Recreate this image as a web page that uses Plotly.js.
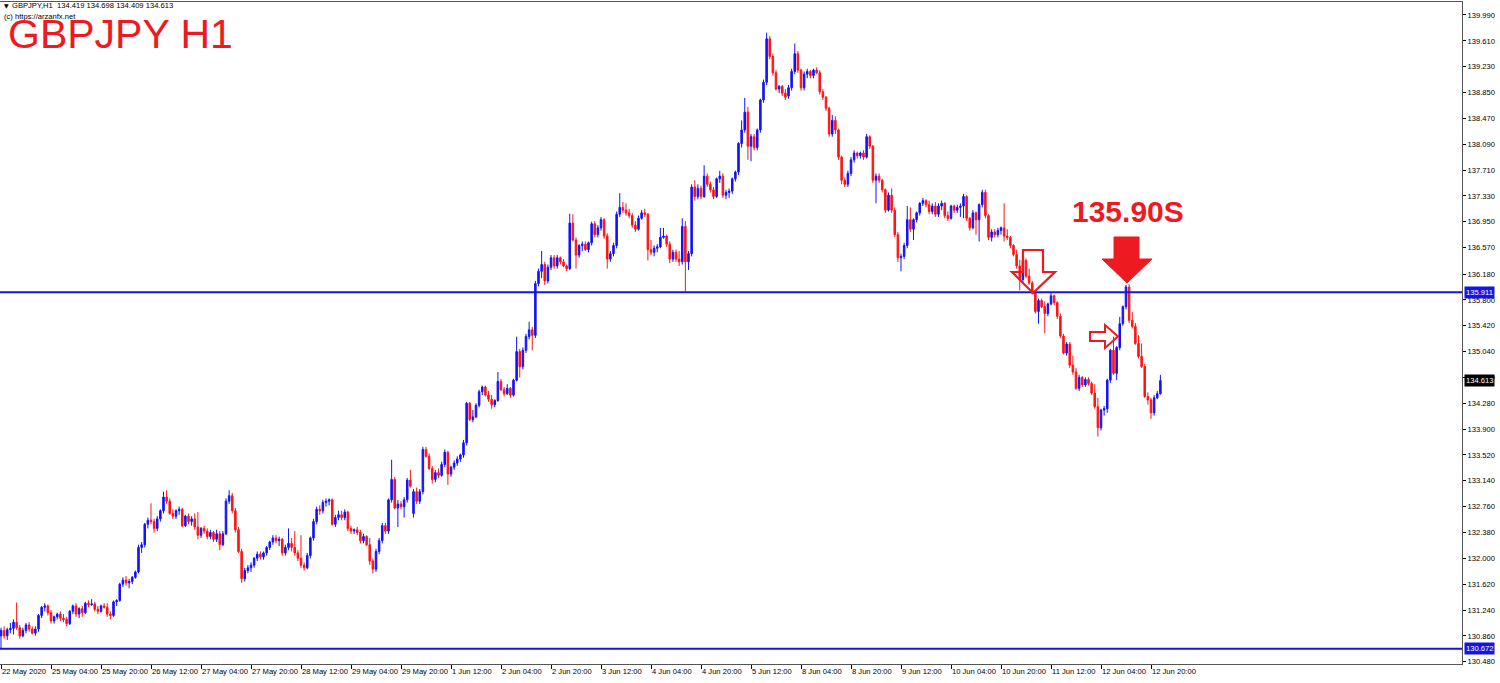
<!DOCTYPE html>
<html>
<head>
<meta charset="utf-8">
<script src="https://cdn.plot.ly/plotly-3.0.1.min.js"></script>
<style>
html,body{margin:0;padding:0;background:#fff;}
#chart{width:1500px;height:683px;}
</style>
</head>
<body>
<div id="chart"></div>
<script>
// ---- trading days (H1 bars, weekends skipped) ----
const tradingDays = ['22 May','25 May','26 May','27 May','28 May','29 May','1 Jun','2 Jun','3 Jun','4 Jun','5 Jun','8 Jun','9 Jun','10 Jun','11 Jun','12 Jun'];
const firstDayStartHour = 12;

// ---- OHLC values (GBPJPY H1) ----
const open = [
130.86,130.94,130.86,130.95,130.97,131.06,130.98,130.86,130.94,131.02,130.96,130.90,
130.96,131.16,131.28,131.30,131.20,131.08,131.14,131.18,131.12,131.10,131.04,131.22,
131.30,131.18,131.26,131.20,131.34,131.32,131.33,131.25,131.22,131.30,131.28,131.18,
131.16,131.36,131.38,131.62,131.68,131.64,131.66,131.72,131.80,132.16,132.20,132.50,
132.56,132.54,132.44,132.58,132.70,132.90,132.84,132.66,132.62,132.70,132.72,132.48,
132.62,132.54,132.58,132.46,132.34,132.44,132.40,132.32,132.38,132.28,132.36,132.20,
132.36,132.84,132.92,132.70,132.42,132.10,131.70,131.82,131.86,131.90,132.00,132.06,
132.02,132.08,132.16,132.24,132.30,132.26,132.28,132.08,132.16,132.22,132.16,132.08,
132.00,131.90,131.86,132.04,132.30,132.54,132.72,132.70,132.82,132.84,132.86,132.50,
132.60,132.64,132.60,132.68,132.44,132.40,132.42,132.38,132.26,132.32,132.20,131.96,
131.84,132.10,132.26,132.48,132.40,132.86,133.16,132.74,132.80,132.76,132.86,133.15,
132.66,132.98,132.84,132.98,133.60,133.50,133.32,133.16,133.26,133.22,133.38,133.56,
133.24,133.34,133.40,133.46,133.52,133.70,134.28,134.04,134.08,134.25,134.45,134.52,
134.40,134.34,134.26,134.32,134.60,134.48,134.42,134.50,134.40,134.62,135.04,134.82,
135.06,135.26,135.36,135.28,136.04,136.22,136.32,136.08,136.28,136.42,136.30,136.42,
136.36,136.30,136.26,136.93,136.68,136.46,136.60,136.62,136.54,136.64,136.92,136.76,
136.86,136.98,136.74,136.40,136.48,136.60,137.06,137.16,137.12,137.08,137.04,136.90,
136.84,137.00,137.08,137.06,136.54,136.50,136.56,136.58,136.72,136.74,136.62,136.40,
136.50,136.40,136.36,136.88,136.36,136.48,137.46,137.32,137.44,137.32,137.62,137.50,
137.42,137.32,137.58,137.62,137.34,137.38,137.40,137.58,137.68,138.10,138.30,138.56,
138.06,138.20,138.04,138.30,138.74,139.00,139.64,139.38,139.14,138.90,138.94,138.84,
138.80,138.92,139.16,139.42,139.18,138.92,139.12,139.16,139.10,139.18,139.14,138.86,
138.78,138.62,138.24,138.44,138.30,137.90,137.56,137.50,137.66,137.86,137.96,137.92,
137.96,137.90,138.20,138.06,137.56,137.62,137.56,137.42,137.12,137.34,137.12,136.76,
136.42,136.44,136.60,136.98,136.84,136.98,137.08,137.22,137.26,137.20,137.10,137.18,
137.06,137.18,137.22,137.04,137.00,137.18,137.12,137.16,137.18,137.32,137.00,136.86,
137.08,136.98,137.20,137.38,137.04,136.72,136.80,136.76,136.82,136.86,136.74,136.72,
136.60,136.47,136.30,136.10,136.38,136.15,136.05,135.90,135.63,135.79,135.70,135.60,
135.74,135.86,135.76,135.56,135.27,135.02,135.15,134.84,134.74,134.50,134.66,134.55,
134.63,134.57,134.43,134.23,133.92,134.18,134.20,134.62,135.06,134.72,135.10,135.45,
135.70,135.99,135.50,135.41,135.16,134.97,134.82,134.38,134.33,134.14,134.36,134.419
];
const high = [
130.98,131.00,130.98,131.05,131.10,131.35,131.02,130.98,131.05,131.06,131.00,131.00,
131.18,131.30,131.34,131.32,131.24,131.16,131.20,131.22,131.18,131.14,131.24,131.32,
131.34,131.28,131.30,131.36,131.38,131.40,131.36,131.30,131.32,131.34,131.34,131.22,
131.38,131.40,131.64,131.72,131.74,131.70,131.74,131.82,132.20,132.24,132.52,132.60,
132.81,132.58,132.62,132.72,132.98,133.00,132.88,132.72,132.72,132.76,132.74,132.64,
132.66,132.62,132.66,132.68,132.46,132.48,132.44,132.42,132.40,132.42,132.40,132.40,
132.88,133.00,132.96,132.74,132.46,132.14,131.86,131.90,131.94,132.02,132.10,132.10,
132.10,132.18,132.26,132.34,132.34,132.32,132.30,132.20,132.44,132.30,132.40,132.12,
132.34,131.94,132.08,132.32,132.58,132.76,132.78,132.86,132.88,132.88,132.88,132.64,
132.70,132.70,132.72,132.70,132.48,132.44,132.46,132.42,132.36,132.34,132.30,132.00,
132.14,132.30,132.52,132.52,132.88,133.45,133.20,132.86,132.84,132.90,133.18,133.30,
133.02,133.04,133.02,133.64,133.64,133.54,133.36,133.30,133.32,133.42,133.60,133.58,
133.36,133.44,133.50,133.54,133.74,134.30,134.30,134.18,134.28,134.48,134.54,134.54,
134.46,134.40,134.34,134.74,134.64,134.52,134.56,134.52,134.64,135.26,135.08,135.10,
135.30,135.48,135.40,136.08,136.26,136.52,136.36,136.32,136.46,136.46,136.46,136.44,
136.40,136.32,137.07,137.06,136.72,136.62,136.66,136.66,136.66,136.95,136.96,136.90,
137.02,137.00,136.78,136.52,136.64,137.10,137.37,137.24,137.22,137.14,137.08,136.96,
137.04,137.12,137.14,137.08,136.68,136.60,136.62,136.86,136.86,136.76,136.66,136.54,
136.54,136.52,137.00,136.96,136.52,137.50,137.56,137.50,137.48,137.78,137.66,137.54,
137.46,137.60,137.70,137.66,137.42,137.44,137.60,137.70,138.12,138.44,138.77,138.64,
138.24,138.24,138.32,138.76,139.04,139.73,139.68,139.42,139.18,138.96,138.96,138.90,
138.96,139.20,139.57,139.46,139.20,139.16,139.20,139.18,139.20,139.22,139.18,138.90,
138.80,138.64,138.52,138.50,138.32,137.92,137.60,137.70,137.90,138.00,137.98,137.98,
138.00,138.24,138.22,138.08,137.66,137.66,137.58,137.44,137.38,137.44,137.16,136.80,
136.48,136.64,137.18,137.16,137.00,137.10,137.24,137.30,137.28,137.26,137.22,137.24,
137.22,137.26,137.24,137.10,137.20,137.20,137.20,137.22,137.36,137.34,137.02,137.12,
137.10,137.22,137.42,137.42,137.06,136.84,136.84,136.86,136.88,137.22,136.84,136.74,
136.62,136.54,136.39,136.40,136.41,136.26,136.08,135.92,135.82,135.82,135.78,135.76,
135.90,135.88,135.78,135.60,135.30,135.18,135.18,134.98,134.80,134.70,134.68,134.66,
134.66,134.60,134.56,134.36,134.20,134.24,134.64,135.08,135.26,135.12,135.55,135.72,
136.02,136.03,135.62,135.46,135.28,135.16,134.86,134.44,134.36,134.40,134.46,134.698
];
const low = [
130.67,130.82,130.80,130.90,130.88,130.95,130.82,130.84,130.90,130.92,130.88,130.86,
130.92,131.12,131.22,131.16,131.04,131.04,131.10,131.08,131.06,131.00,131.02,131.18,
131.14,131.12,131.14,131.18,131.28,131.30,131.22,131.18,131.20,131.26,131.14,131.10,
131.14,131.30,131.36,131.58,131.60,131.56,131.62,131.70,131.78,132.08,132.16,132.44,
132.50,132.38,132.40,132.54,132.66,132.80,132.64,132.58,132.58,132.64,132.46,132.46,
132.50,132.48,132.42,132.28,132.30,132.36,132.28,132.28,132.24,132.24,132.12,132.18,
132.34,132.80,132.66,132.38,132.08,131.64,131.66,131.78,131.80,131.86,131.96,131.98,
131.98,132.04,132.12,132.20,132.22,132.18,132.04,132.04,132.12,132.10,132.04,131.96,
131.86,131.82,131.84,132.00,132.26,132.50,132.64,132.66,132.76,132.78,132.48,132.46,
132.56,132.56,132.56,132.40,132.36,132.36,132.34,132.22,132.22,132.18,131.90,131.78,
131.80,132.06,132.22,132.36,132.36,132.82,132.72,132.46,132.72,132.60,132.82,133.04,
132.60,132.80,132.80,132.94,133.48,133.30,133.10,133.12,133.18,133.20,133.34,133.08,
133.20,133.30,133.36,133.42,133.48,133.66,134.02,134.00,134.06,134.22,134.40,134.38,
134.30,134.20,134.22,134.30,134.46,134.38,134.40,134.36,134.38,134.60,134.66,134.78,
135.02,135.22,135.06,135.24,136.00,136.12,136.02,136.04,136.24,136.26,136.26,136.32,
136.28,136.22,136.24,136.66,136.26,136.42,136.52,136.52,136.50,136.60,136.72,136.72,
136.82,136.70,136.26,136.36,136.44,136.56,137.02,137.08,137.04,137.00,136.86,136.80,
136.82,136.98,137.02,136.38,136.46,136.44,136.50,136.56,136.70,136.58,136.34,136.36,
136.36,136.30,136.32,135.92,136.24,136.44,137.26,137.28,137.28,137.30,137.46,137.38,
137.28,137.30,137.52,137.30,137.28,137.30,137.36,137.54,137.64,138.04,138.26,137.86,
137.84,138.00,138.00,138.26,138.70,138.96,139.34,139.10,138.88,138.84,138.80,138.74,
138.76,138.88,139.12,139.14,138.88,138.88,139.06,139.06,139.06,139.12,138.82,138.74,
138.58,138.20,138.20,138.24,137.86,137.50,137.46,137.46,137.62,137.82,137.88,137.88,
137.86,137.88,138.02,137.52,137.22,137.52,137.38,137.08,137.10,137.08,136.72,136.36,
136.22,136.40,136.56,136.80,136.68,136.94,137.04,137.18,137.16,137.06,137.06,137.02,
137.02,137.12,137.00,136.96,136.98,137.08,137.08,137.02,137.00,136.96,136.82,136.84,
136.76,136.66,137.16,137.00,136.68,136.66,136.72,136.72,136.76,136.66,136.68,136.56,
136.44,136.26,135.94,136.06,136.12,136.02,135.88,135.60,135.45,135.68,135.31,135.56,
135.72,135.72,135.52,135.24,135.00,134.98,134.80,134.70,134.48,134.46,134.52,134.52,
134.54,134.40,134.20,133.79,133.88,134.10,134.14,134.58,134.70,134.62,135.06,135.42,
135.66,135.46,135.38,135.14,134.94,134.80,134.36,134.26,134.05,134.10,134.34,134.409
];
const close = [
130.94,130.86,130.95,130.97,131.06,130.98,130.86,130.94,131.02,130.96,130.90,130.96,
131.16,131.28,131.30,131.20,131.08,131.14,131.18,131.12,131.10,131.04,131.22,131.30,
131.18,131.26,131.20,131.34,131.32,131.33,131.25,131.22,131.30,131.28,131.18,131.16,
131.36,131.38,131.62,131.68,131.64,131.66,131.72,131.80,132.16,132.20,132.50,132.56,
132.54,132.44,132.58,132.70,132.90,132.84,132.66,132.62,132.70,132.72,132.48,132.62,
132.54,132.58,132.46,132.34,132.44,132.40,132.32,132.38,132.28,132.36,132.20,132.36,
132.84,132.92,132.70,132.42,132.10,131.70,131.82,131.86,131.90,132.00,132.06,132.02,
132.08,132.16,132.24,132.30,132.26,132.28,132.08,132.16,132.22,132.16,132.08,132.00,
131.90,131.86,132.04,132.30,132.54,132.72,132.70,132.82,132.84,132.86,132.50,132.60,
132.64,132.60,132.68,132.44,132.40,132.42,132.38,132.26,132.32,132.20,131.96,131.84,
132.10,132.26,132.48,132.40,132.86,133.16,132.74,132.80,132.76,132.86,133.15,133.06,
132.98,132.84,132.98,133.60,133.50,133.32,133.16,133.26,133.22,133.38,133.56,133.24,
133.34,133.40,133.46,133.52,133.70,134.28,134.04,134.08,134.25,134.45,134.52,134.40,
134.34,134.26,134.32,134.60,134.48,134.42,134.50,134.40,134.62,135.04,134.82,135.06,
135.26,135.36,135.28,136.04,136.22,136.32,136.08,136.28,136.42,136.30,136.42,136.36,
136.30,136.26,136.93,136.68,136.46,136.60,136.62,136.54,136.64,136.92,136.76,136.86,
136.98,136.74,136.40,136.48,136.60,137.06,137.16,137.12,137.08,137.04,136.90,136.84,
137.00,137.08,137.06,136.54,136.50,136.56,136.58,136.72,136.74,136.62,136.40,136.50,
136.40,136.36,136.88,136.36,136.48,137.46,137.32,137.44,137.32,137.62,137.50,137.42,
137.32,137.58,137.62,137.34,137.38,137.40,137.58,137.68,138.10,138.30,138.56,138.06,
138.20,138.04,138.30,138.74,139.00,139.64,139.38,139.14,138.90,138.94,138.84,138.78,
138.92,139.16,139.42,139.18,138.92,139.12,139.16,139.10,139.18,139.14,138.86,138.78,
138.62,138.24,138.44,138.30,137.90,137.56,137.50,137.66,137.86,137.96,137.92,137.96,
137.90,138.20,138.06,137.56,137.62,137.56,137.42,137.12,137.34,137.12,136.76,136.42,
136.44,136.60,136.98,136.84,136.98,137.08,137.22,137.26,137.20,137.10,137.18,137.06,
137.18,137.22,137.04,137.00,137.18,137.12,137.16,137.18,137.32,137.00,136.86,137.08,
136.98,137.20,137.38,137.04,136.72,136.80,136.76,136.82,136.86,136.74,136.72,136.60,
136.47,136.30,136.10,136.38,136.15,136.05,135.90,135.63,135.79,135.70,135.60,135.74,
135.86,135.76,135.56,135.27,135.02,135.15,134.84,134.74,134.50,134.66,134.55,134.63,
134.57,134.43,134.23,133.92,134.18,134.20,134.62,135.06,134.72,135.10,135.45,135.70,
135.99,135.50,135.41,135.16,134.97,134.82,134.38,134.33,134.14,134.36,134.42,134.613
];

// ---- axis labels ----
const xTickTimes = ['22 May 12:00','25 May 04:00','25 May 20:00','26 May 12:00','27 May 04:00','27 May 20:00','28 May 12:00','29 May 04:00','29 May 20:00','1 Jun 12:00','2 Jun 04:00','2 Jun 20:00','3 Jun 12:00','4 Jun 04:00','4 Jun 20:00','5 Jun 12:00','8 Jun 04:00','8 Jun 20:00','9 Jun 12:00','10 Jun 04:00','10 Jun 20:00','11 Jun 12:00','12 Jun 04:00','12 Jun 20:00'];
const xTickText  = ['22 May 2020','25 May 04:00','25 May 20:00','26 May 12:00','27 May 04:00','27 May 20:00','28 May 12:00','29 May 04:00','29 May 20:00','1 Jun 12:00','2 Jun 04:00','2 Jun 20:00','3 Jun 12:00','4 Jun 04:00','4 Jun 20:00','5 Jun 12:00','8 Jun 04:00','8 Jun 20:00','9 Jun 12:00','10 Jun 04:00','10 Jun 20:00','11 Jun 12:00','12 Jun 04:00','12 Jun 20:00'];
const yTicks = [130.480,130.860,131.240,131.620,132.000,132.380,132.760,133.140,133.520,133.900,134.280,134.660,135.040,135.420,135.800,136.180,136.570,136.950,137.330,137.710,138.090,138.470,138.850,139.230,139.610,139.990];

// ---- levels / header ----
const resistanceLevel = 135.911;
const supportLevel = 130.672;
const lastPrice = 134.613;
const symbolTitle = 'GBPJPY H1';
const headerText = 'GBPJPY,H1\u00a0\u00a0134.419 134.698 134.409 134.613';
const copyrightText = '(c) https://arzanfx.net';
const levelNote = '135.90S';

// build hourly time categories
const times = [];
tradingDays.forEach((d, k) => {
  for (let h = (k === 0 ? firstDayStartHour : 0); h < 24; h++) {
    times.push(d + ' ' + String(h).padStart(2, '0') + ':00');
  }
});

// plot area geometry (pixels) for annotation placement
const W = 1500, H = 683, ML = 0, MR = 38, MT = 2, MB = 19;
const PW = W - ML - MR, PH = H - MT - MB;
const px = x => (x - ML) / PW;
const py = y => 1 - (y - MT) / PH;
const path = pts => 'M' + pts.map(p => px(p[0]).toFixed(5) + ',' + py(p[1]).toFixed(5)).join(' L') + ' Z';

const RED = '#ee1a22';
const BLUE = '#1414e6';
const tickFont = {family: 'Liberation Sans, Arial, sans-serif', size: 7.6, color: '#000'};

const trace = {
  type: 'candlestick',
  x: times, open: open, high: high, low: low, close: close,
  increasing: {line: {color: '#1212ff', width: 1}, fillcolor: '#1212ff'},
  decreasing: {line: {color: '#ff1414', width: 1}, fillcolor: '#ff1414'},
  whiskerwidth: 0,
  hoverinfo: 'skip'
};

const layout = {
  width: W, height: H,
  margin: {l: ML, r: MR, t: MT, b: MB},
  paper_bgcolor: '#fff', plot_bgcolor: '#fff',
  showlegend: false,
  xaxis: {
    type: 'category', range: [-0.32, 467.52],
    rangeslider: {visible: false},
    tickmode: 'array', tickvals: xTickTimes, ticktext: xTickText,
    ticks: 'outside', ticklen: 4, tickcolor: '#000', tickwidth: 1,
    ticklabelposition: 'outside right',
    tickfont: tickFont, tickangle: 0,
    showline: true, linecolor: '#555', linewidth: 1, mirror: true,
    showgrid: false, zeroline: false, fixedrange: true
  },
  yaxis: {
    side: 'right', range: [130.446, 140.181],
    tickmode: 'array', tickvals: yTicks, ticktext: yTicks.map(v => v.toFixed(3)),
    ticks: 'outside', ticklen: 3, tickcolor: '#000', tickwidth: 1,
    tickfont: tickFont,
    showline: true, linecolor: '#555', linewidth: 1, mirror: true,
    showgrid: false, zeroline: false, fixedrange: true
  },
  shapes: [
    {type: 'line', xref: 'paper', yref: 'y', x0: 0, x1: 1, y0: resistanceLevel, y1: resistanceLevel, line: {color: BLUE, width: 2}},
    {type: 'line', xref: 'paper', yref: 'y', x0: 0, x1: 1, y0: supportLevel, y1: supportLevel, line: {color: BLUE, width: 2}},
    // filled down arrow
    {type: 'path', xref: 'paper', yref: 'paper', fillcolor: RED, line: {color: RED, width: 1},
     path: path([[1114,237],[1139,237],[1139,259],[1152,259],[1127,283],[1102,259],[1114,259]])},
    // outline down arrow
    {type: 'path', xref: 'paper', yref: 'paper', fillcolor: 'rgba(0,0,0,0)', line: {color: RED, width: 2.2},
     path: path([[1023,250],[1043,250],[1043,272],[1055,272],[1033,293],[1012,272],[1023,272]])},
    // outline right arrow
    {type: 'path', xref: 'paper', yref: 'paper', fillcolor: 'rgba(0,0,0,0)', line: {color: RED, width: 2},
     path: path([[1090,332],[1105,332],[1105,325],[1118,336.5],[1105,348],[1105,341],[1090,341]])}
  ],
  annotations: [
    {xref: 'paper', yref: 'paper', x: px(2), y: py(6), xanchor: 'left', yanchor: 'middle', showarrow: false,
     text: '\u25BC', font: {family: 'DejaVu Sans', size: 6, color: '#000'}},
    {xref: 'paper', yref: 'paper', x: px(10), y: py(6), xanchor: 'left', yanchor: 'middle', showarrow: false,
     text: headerText, font: tickFont},
    {xref: 'paper', yref: 'paper', x: px(2), y: py(16.5), xanchor: 'left', yanchor: 'middle', showarrow: false,
     text: copyrightText, font: tickFont},
    {xref: 'paper', yref: 'paper', x: px(6), y: py(33.5), xanchor: 'left', yanchor: 'middle', showarrow: false,
     text: symbolTitle, font: {family: 'Liberation Sans, Arial, sans-serif', size: 41, color: RED}},
    {xref: 'paper', yref: 'paper', x: px(1128), y: py(211), xanchor: 'center', yanchor: 'middle', showarrow: false,
     text: '<b>' + levelNote + '</b>', font: {family: 'Liberation Sans, Arial, sans-serif', size: 30, color: RED}},
    {xref: 'paper', yref: 'y', x: 1, y: resistanceLevel, xanchor: 'left', yanchor: 'middle', xshift: 2, showarrow: false,
     text: resistanceLevel.toFixed(3), bgcolor: BLUE, borderpad: 1, font: {family: tickFont.family, size: 7.6, color: '#fff'}},
    {xref: 'paper', yref: 'y', x: 1, y: supportLevel, xanchor: 'left', yanchor: 'middle', xshift: 2, showarrow: false,
     text: supportLevel.toFixed(3), bgcolor: BLUE, borderpad: 1, font: {family: tickFont.family, size: 7.6, color: '#fff'}},
    {xref: 'paper', yref: 'y', x: 1, y: lastPrice, xanchor: 'left', yanchor: 'middle', xshift: 2, showarrow: false,
     text: lastPrice.toFixed(3), bgcolor: '#000', borderpad: 1, font: {family: tickFont.family, size: 7.6, color: '#fff'}}
  ]
};

Plotly.newPlot('chart', [trace], layout, {staticPlot: true, displayModeBar: false});
</script>
</body>
</html>
